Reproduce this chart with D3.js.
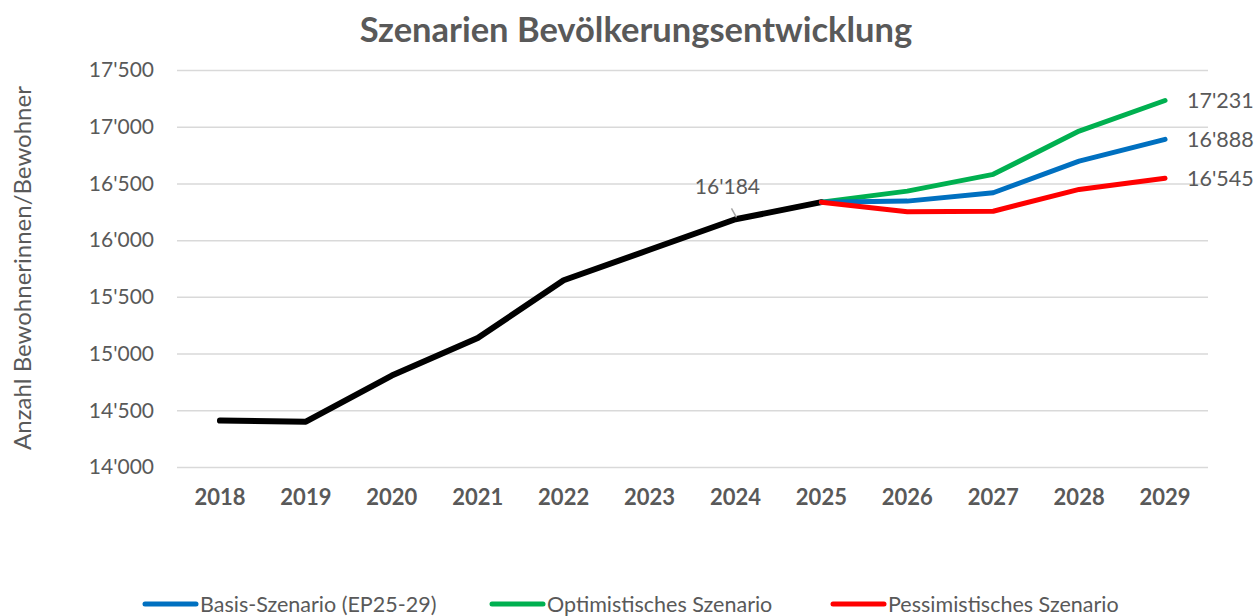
<!DOCTYPE html>
<html>
<head>
<meta charset="utf-8">
<script src="https://cdn.jsdelivr.net/npm/d3@7"></script>
<style>
  body { margin: 0; background: #fff; }
  text { font-family: Lato, "Open Sans", sans-serif; fill: #595959; }
</style>
</head>
<body>
<div id="chart"></div>
<script>
// data
var years = ["2018", "2019", "2020", "2021", "2022", "2023", "2024", "2025", "2026", "2027", "2028", "2029"];
var historic = [14409, 14400, 14806, 15137, 15646, 15915, 16184, 16335, null, null, null, null];
var basis = [null, null, null, null, null, null, null, 16335, 16344, 16418, 16696, 16888];
var optimistic = [null, null, null, null, null, null, null, 16335, 16432, 16580, 16962, 17231];
var pessimistic = [null, null, null, null, null, null, null, 16335, 16250, 16255, 16447, 16545];
var yTicks = [14000, 14500, 15000, 15500, 16000, 16500, 17000, 17500];
var legendNames = ["Basis-Szenario (EP25-29)", "Optimistisches Szenario", "Pessimistisches Szenario"];

var W = 1258, H = 616;
var margin = {top: 70, right: 50, bottom: 149, left: 177};
var width = W - margin.left - margin.right,
    height = 467 - margin.top;

var fmt = function(v) { return d3.format(",")(v).replace(/,/g, "'"); };

var svg = d3.select("#chart")
  .append("svg")
    .attr("width", W)
    .attr("height", H);

svg.append("text")
  .attr("x", 636)
  .attr("y", 42)
  .attr("text-anchor", "middle")
  .style("font-size", "34.5px")
  .style("font-weight", "bold")
  .text("Szenarien Bevölkerungsentwicklung");

svg.append("text")
  .attr("transform", "translate(31,268) rotate(-90)")
  .attr("text-anchor", "middle")
  .style("font-size", "24px")
  .text("Anzahl Bewohnerinnen/Bewohner");

var g = svg.append("g")
  .attr("transform", "translate(" + margin.left + "," + margin.top + ")");

var x = d3.scaleBand()
  .domain(years)
  .range([0, width]);

var y = d3.scaleLinear()
  .domain([14000, 17500])
  .range([height, 0]);

// gridlines + y labels
g.append("g")
  .call(d3.axisLeft(y).tickValues(yTicks).tickSize(-width).tickPadding(23).tickFormat(fmt))
  .call(function(a) {
    a.select(".domain").remove();
    a.selectAll("line").attr("stroke", "#d9d9d9").attr("stroke-width", 1.5);
    a.selectAll("text").style("font-size", "21px").attr("fill", "#595959");
  });

// x labels
g.append("g")
  .attr("transform", "translate(0," + height + ")")
  .call(d3.axisBottom(x).tickSize(0).tickPadding(22))
  .call(function(a) {
    a.select(".domain").remove();
    a.selectAll("text").style("font-size", "22px").style("font-weight", "bold").attr("fill", "#595959");
  });

var line = d3.line()
  .defined(function(d) { return d != null; })
  .x(function(d, i) { return x(years[i]) + x.bandwidth() / 2; })
  .y(function(d) { return y(d); });

var series = [
  {values: historic, color: "#000000", w: 6},
  {values: optimistic, color: "#00B050", w: 5},
  {values: basis, color: "#0070C0", w: 5},
  {values: pessimistic, color: "#FF0000", w: 5}
];

series.forEach(function(s) {
  g.append("path")
    .datum(s.values)
    .attr("d", line)
    .attr("fill", "none")
    .attr("stroke", s.color)
    .attr("stroke-width", s.w)
    .attr("stroke-linecap", "round")
    .attr("stroke-linejoin", "round");
});

// label for 2024
var lx = x("2024") + x.bandwidth() / 2, ly = y(historic[6]);
g.append("line")
  .attr("x1", lx - 4).attr("y1", ly - 11)
  .attr("x2", lx + 1).attr("y2", ly - 2)
  .attr("stroke", "#a6a6a6")
  .attr("stroke-width", 1.5);
g.append("text")
  .attr("x", lx - 8)
  .attr("y", ly - 25)
  .attr("text-anchor", "middle")
  .style("font-size", "21px")
  .text(fmt(historic[6]));

// end labels
[optimistic, basis, pessimistic].forEach(function(v) {
  var last = v[v.length - 1];
  g.append("text")
    .attr("x", x("2029") + x.bandwidth() / 2 + 22)
    .attr("y", y(last))
    .attr("dy", "0.35em")
    .style("font-size", "21.5px")
    .text(fmt(last));
});

// legend
var legendColors = ["#0070C0", "#00B050", "#FF0000"];
var legendX = [143, 490, 831];
legendNames.forEach(function(n, i) {
  var lg = svg.append("g").attr("transform", "translate(" + legendX[i] + ",604)");
  lg.append("line")
    .attr("x1", 2).attr("x2", 53)
    .attr("stroke", legendColors[i])
    .attr("stroke-width", 5)
    .attr("stroke-linecap", "round");
  lg.append("text")
    .attr("x", 57)
    .attr("dy", "0.35em")
    .style("font-size", "21.5px")
    .text(n);
});
</script>
</body>
</html>
